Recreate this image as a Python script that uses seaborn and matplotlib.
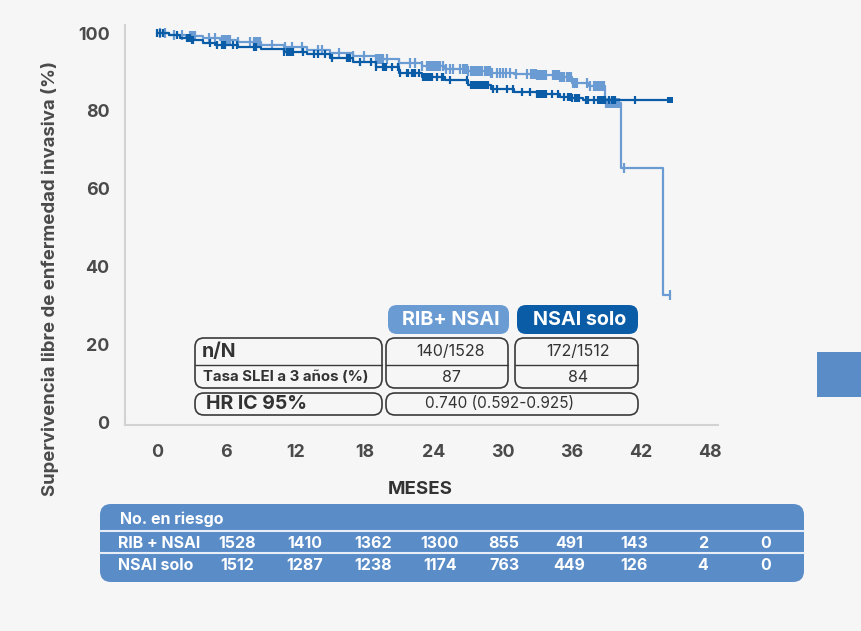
import numpy as np
import pandas as pd
import matplotlib
matplotlib.use("Agg")
import matplotlib.pyplot as plt
from matplotlib.patches import FancyBboxPatch, Rectangle
import seaborn as sns

# ---------------- data ----------------
# Kaplan-Meier step points (months, % survival)
rib_t = [0, 1, 2.5, 4, 5.5, 7, 9, 11, 13, 15, 17, 19, 21, 23, 25, 27, 29, 31, 33, 35, 36, 37.5, 38.9, 40.25, 43.9, 44.5]
rib_s = [100, 99.6, 99.3, 98.8, 98.2, 97.6, 97.0, 96.3, 95.6, 94.9, 94.2, 93.3, 92.4, 91.5, 90.8, 90.2, 89.8, 89.5, 89.3, 88.7, 87.2, 86.3, 82.0, 65.2, 32.6, 32.6]
nsai_t = [0, 1, 2, 3, 4, 5, 7, 9, 11, 13, 15, 17, 19, 21, 23, 25, 27, 29, 31, 33, 35, 36, 37, 44.5]
nsai_s = [100, 99.5, 98.8, 98.2, 97.5, 96.9, 96.3, 95.8, 95.2, 94.5, 93.7, 92.5, 91.2, 89.8, 88.7, 87.9, 86.7, 85.7, 84.9, 84.2, 83.6, 83.2, 82.8, 82.8]

# censored observations (months)
rib_cens = [0.3, 0.7, 1.5, 2.2, 2.9, 3.0, 3.1, 3.2, 3.3, 4.5, 5.0, 5.6, 5.7, 5.8, 5.9, 6.0, 6.1, 6.2, 6.3,
            7.0, 8.1, 8.4, 8.6, 8.7, 8.8, 8.9, 10.0, 11.1, 11.7, 12.6, 14.0, 14.3, 15.8, 17.0, 18.0,
            19.0, 19.1, 19.2, 19.3, 19.4, 19.5, 19.6, 20.0, 21.0, 22.0, 22.4, 23.0,
            23.4, 23.5, 23.6, 23.7, 23.8, 23.9, 24.0, 24.1, 24.2, 24.3, 24.4, 24.5, 24.6,
            24.85, 25.1, 25.4, 25.7, 26.3, 26.6, 26.7, 26.8, 26.9, 27.0,
            27.3, 27.4, 27.5, 27.6, 27.7, 27.8, 27.9, 28.0, 28.1, 28.2, 28.5, 28.6, 28.7, 28.8, 28.9, 29.0, 29.1,
            29.5, 29.8, 30.0, 30.3, 30.6, 31.2, 32.1,
            32.5, 32.6, 32.7, 32.8, 32.9, 33.0, 33.1, 33.2, 33.3, 33.4, 33.5, 33.6, 33.7, 33.8,
            34.4, 34.5, 34.6, 34.7, 34.8, 34.9, 35.0, 35.1, 35.2, 35.3, 35.6, 35.7, 35.8, 35.9,
            36.1, 36.2, 36.3, 36.4, 36.5, 37.3, 37.6, 37.9, 38.0, 38.1, 38.2, 38.3, 38.4, 38.5, 38.6, 38.7, 38.8,
            39.0, 39.1, 39.2, 39.3, 39.4, 39.5, 39.6, 39.7, 39.8, 39.9, 40.0, 40.1, 40.5, 44.5]
nsai_cens = [0.0, 0.26, 0.55, 1.7, 2.6, 2.7, 2.8, 2.9, 3.0, 3.1, 4.6, 5.2, 5.6, 5.7, 5.8, 5.9, 6.6, 6.9,
             8.4, 8.5, 8.6, 11.0, 11.3, 11.5, 11.6, 11.7, 11.8, 12.7, 13.6, 14.0, 14.6, 15.2, 16.5, 16.6, 16.75,
             17.6, 18.6, 19.05, 19.6, 19.7, 19.8, 19.9, 20.4, 20.9, 21.1, 21.7, 21.8, 22.1, 22.2, 22.3, 22.4, 22.7,
             23.1, 23.2, 23.3, 23.4, 23.5, 23.6, 23.7, 23.85, 24.3, 24.7, 24.85, 25.4, 26.9,
             27.3, 27.4, 27.5, 27.6, 27.7, 27.8, 27.9, 28.0, 28.1, 28.2, 28.3, 28.4, 28.5, 28.6, 28.7,
             29.2, 29.5, 30.4, 30.9, 31.7, 32.4, 33.0, 33.1, 33.2, 33.3, 33.4, 33.5, 33.6, 33.7, 33.8,
             34.3, 34.8, 35.3, 35.7, 35.8, 35.9, 36.0, 36.3, 36.4, 36.5, 36.6, 37.2, 37.4, 37.9,
             38.3, 38.4, 38.5, 38.6, 38.7, 38.8, 38.9, 39.2, 39.5, 39.6, 39.7, 39.8, 41.5]
nsai_end = [44.5]

x_ticks = [0, 6, 12, 18, 24, 30, 36, 42, 48]
y_ticks = [0, 20, 40, 60, 80, 100]

arm_labels = ["RIB+ NSAI", "NSAI solo"]
row_labels = ["n/N", "Tasa SLEI a 3 años (%)", "HR IC 95%"]
n_over_N = ["140/1528", "172/1512"]
rate_3y = ["87", "84"]
hr_text = "0.740 (0.592-0.925)"

risk_title = "No. en riesgo"
risk_arms = ["RIB + NSAI", "NSAI solo"]
risk_rib = [1528, 1410, 1362, 1300, 855, 491, 143, 2, 0]
risk_nsai = [1512, 1287, 1238, 1174, 763, 449, 126, 4, 0]

# ---------------- style ----------------
BG = "#f6f6f6"
LIGHT = "#6b9bd3"
DARK = "#0b5ca6"
TABLE = "#5a8cc8"
TXT = "#4a4a4a"

sns.set_theme(style="white")
plt.rcParams["font.family"] = ["Inter", "DejaVu Sans"]

W, H = 862, 631
fig = plt.figure(figsize=(W / 100, H / 100), dpi=100, facecolor=BG)


def fx(px):
    return px / W


def fy(py):
    return 1 - py / H


ax = fig.add_axes([fx(125), fy(425), (718 - 125) / W, (425 - 25) / H])
ax.set_facecolor(BG)


def step_value(tt, ss, t):
    tt = np.asarray(tt)
    idx = np.searchsorted(tt, t, side="right") - 1
    return np.asarray(ss)[np.clip(idx, 0, len(ss) - 1)]


rib_df = pd.DataFrame({"t": rib_t, "s": rib_s})
nsai_df = pd.DataFrame({"t": nsai_t, "s": nsai_s})
sns.lineplot(data=rib_df, x="t", y="s", drawstyle="steps-post", color=LIGHT, lw=1.6,
             estimator=None, sort=False, ax=ax, zorder=3)
sns.lineplot(data=nsai_df, x="t", y="s", drawstyle="steps-post", color=DARK, lw=1.6,
             estimator=None, sort=False, ax=ax, zorder=4)

rc = pd.DataFrame({"t": rib_cens, "s": step_value(rib_t, rib_s, np.array(rib_cens))})
nc = pd.DataFrame({"t": nsai_cens, "s": step_value(nsai_t, nsai_s, np.array(nsai_cens))})
ne = pd.DataFrame({"t": nsai_end, "s": step_value(nsai_t, nsai_s, np.array(nsai_end))})
sns.scatterplot(data=rc, x="t", y="s", marker="|", s=45, color=LIGHT, linewidth=1.6, ax=ax, zorder=3)
sns.scatterplot(data=nc, x="t", y="s", marker="|", s=35, color=DARK, linewidth=1.6, ax=ax, zorder=4)
sns.scatterplot(data=ne, x="t", y="s", marker="s", s=22, color=DARK, linewidth=0, ax=ax, zorder=4)

ax.set_xlim(-2.78, 48.7)
ax.set_ylim(-0.77, 102.06)
ax.set_xticks(x_ticks)
ax.set_yticks(y_ticks)
ax.set_xlabel("")
ax.set_ylabel("")
for side in ["top", "right"]:
    ax.spines[side].set_visible(False)
for side in ["left", "bottom"]:
    ax.spines[side].set_color("#d2d2d2")
    ax.spines[side].set_linewidth(1.5)
ax.tick_params(axis="both", length=6, width=1.5, color="#d2d2d2", labelcolor=TXT, labelsize=12.8)
ax.tick_params(axis="x", pad=8)
ax.tick_params(axis="y", pad=5)
for lab in ax.get_xticklabels() + ax.get_yticklabels():
    lab.set_fontweight("bold")

fig.text(fx(50), fy(278), "Supervivencia libre de enfermedad invasiva (%)", rotation=90,
         ha="center", va="center", fontsize=13.4, fontweight="bold", color=TXT)
fig.text(fx(420), fy(490), "MESES", ha="center", va="center", fontsize=13.5,
         fontweight="bold", color="#333333")


def rbox(x0, y0, x1, y1, fc="none", ec="#3a3a3a", lw=1.2, r=9):
    p = FancyBboxPatch((fx(x0), fy(y1)), fx(x1) - fx(x0), fy(y0) - fy(y1),
                       boxstyle=f"round,pad=0,rounding_size={r / W}",
                       transform=fig.transFigure, fc=fc, ec=ec, lw=lw,
                       mutation_aspect=W / H)
    fig.patches.append(p)
    return p


# inner results table
rbox(388, 305, 509, 334, fc=LIGHT, ec="none", r=9)
rbox(517, 305, 638, 334, fc=DARK, ec="none", r=9)
fig.text(fx(451), fy(320), arm_labels[0], ha="center", va="center", fontsize=14.2,
         fontweight="bold", color="white")
fig.text(fx(580), fy(320), arm_labels[1], ha="center", va="center", fontsize=14.2,
         fontweight="bold", color="white")

rbox(195, 338, 382, 388)
rbox(386, 338, 508, 388)
rbox(515, 338, 638, 388)
rbox(195, 393, 382, 415)
rbox(386, 393, 638, 415)
for (a, b) in [(195, 382), (386, 508), (515, 638)]:
    fig.add_artist(plt.Line2D([fx(a), fx(b)], [fy(365), fy(365)], transform=fig.transFigure,
                              color="#3a3a3a", lw=1.0))

fig.text(fx(202), fy(352), row_labels[0], ha="left", va="center", fontsize=14,
         fontweight="bold", color="#333333")
fig.text(fx(203), fy(377), row_labels[1], ha="left", va="center", fontsize=10.8,
         fontweight="bold", color="#333333")
fig.text(fx(206), fy(404), row_labels[2], ha="left", va="center", fontsize=14,
         fontweight="bold", color="#333333")
fig.text(fx(451), fy(352), n_over_N[0], ha="center", va="center", fontsize=11.5, color="#333333")
fig.text(fx(578), fy(352), n_over_N[1], ha="center", va="center", fontsize=11.5, color="#333333")
fig.text(fx(451), fy(377), rate_3y[0], ha="center", va="center", fontsize=11.5, color="#333333")
fig.text(fx(578), fy(377), rate_3y[1], ha="center", va="center", fontsize=11.5, color="#333333")
fig.text(fx(500), fy(404), hr_text, ha="center", va="center", fontsize=11, color="#333333")

# number at risk table
rbox(100, 504, 804, 582, fc=TABLE, ec="none", r=11)
for yy in [531, 553]:
    fig.add_artist(plt.Line2D([fx(100), fx(804)], [fy(yy), fy(yy)], transform=fig.transFigure,
                              color="#e8eef7", lw=1.5))
fig.text(fx(120), fy(519), risk_title, ha="left", va="center", fontsize=11.5,
         fontweight="bold", color="white")
fig.text(fx(118), fy(543), risk_arms[0], ha="left", va="center", fontsize=11.5,
         fontweight="bold", color="white")
fig.text(fx(118), fy(565), risk_arms[1], ha="left", va="center", fontsize=11.5,
         fontweight="bold", color="white")
col_x = [237, 305, 373, 440, 504, 569, 634, 703, 766]
for cx, a, b in zip(col_x, risk_rib, risk_nsai):
    fig.text(fx(cx), fy(543), str(a), ha="center", va="center", fontsize=11.5,
             fontweight="bold", color="white")
    fig.text(fx(cx), fy(565), str(b), ha="center", va="center", fontsize=11.5,
             fontweight="bold", color="white")

# decorative tab at right edge
fig.patches.append(Rectangle((fx(817), fy(397)), fx(862) - fx(817), fy(352) - fy(397),
                             transform=fig.transFigure, fc=TABLE, ec="none"))

fig.savefig("out.png", dpi=100, facecolor=BG)
